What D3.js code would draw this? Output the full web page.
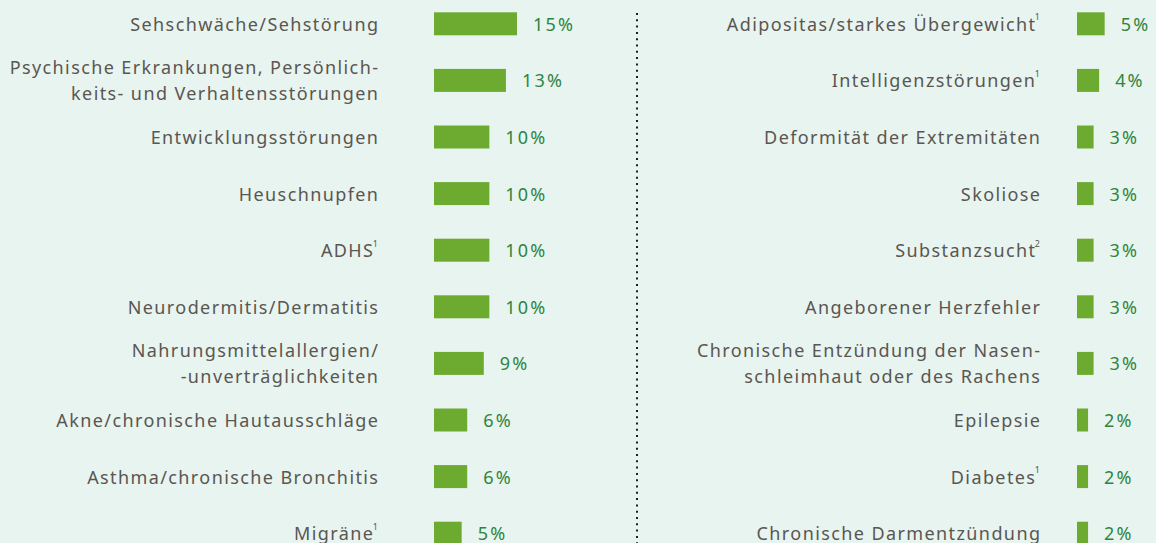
<!DOCTYPE html>
<html>
<head>
<meta charset="utf-8">
<script src="https://cdn.jsdelivr.net/npm/d3@7"></script>
<style>
    html, body { margin: 0; padding: 0; background: #e8f4ef; }
    svg { display: block; }
</style>
</head>
<body>
<div class="data_figure"></div>
<script>
// left column
const leftLabels = [
    ["Sehschwäche/Sehstörung"],
    ["Psychische Erkrankungen, Persönlich-", "keits- und Verhaltensstörungen"],
    ["Entwicklungsstörungen"],
    ["Heuschnupfen"],
    ["ADHS"],
    ["Neurodermitis/Dermatitis"],
    ["Nahrungsmittelallergien/", "-unverträglichkeiten"],
    ["Akne/chronische Hautausschläge"],
    ["Asthma/chronische Bronchitis"],
    ["Migräne"]
];
const leftNotes = ["", "", "", "", "1", "", "", "", "", "1"];
const leftValues = [15, 13, 10, 10, 10, 10, 9, 6, 6, 5];

// right column
const rightLabels = [
    ["Adipositas/starkes Übergewicht"],
    ["Intelligenzstörungen"],
    ["Deformität der Extremitäten"],
    ["Skoliose"],
    ["Substanzsucht"],
    ["Angeborener Herzfehler"],
    ["Chronische Entzündung der Nasen-", "schleimhaut oder des Rachens"],
    ["Epilepsie"],
    ["Diabetes"],
    ["Chronische Darmentzündung"]
];
const rightNotes = ["1", "1", "", "", "2", "", "", "", "1", ""];
const rightValues = [5, 4, 3, 3, 3, 3, 3, 2, 2, 2];

const widthMax = 1156;
const heightMax = 543;

const barColor = "#6dab30",
      valueColor = "#2f8440",
      labelColor = "#5a5652";

const svg = d3.select(".data_figure")
              .append("svg")
              .attr("width", widthMax)
              .attr("height", heightMax)
              .style("font-family", "'Noto Sans', sans-serif");

const y = d3.scaleBand()
            .domain(d3.range(10))
            .range([-5, 561]);
const x = d3.scaleLinear()
            .domain([0, 15])
            .range([0, 83]);
const barH = 23;
const spacing = 1.4;

function drawColumn(labels, notes, values, labelRight, barLeft) {
    const g = svg.append("g");
    const rows = g.selectAll(".row")
                  .data(values)
                  .enter()
                  .append("g")
                  .attr("class", "row")
                  .attr("transform", (d, i) => "translate(0," + (y(i) + y.bandwidth() / 2) + ")");

    rows.append("rect")
        .attr("x", barLeft)
        .attr("y", -barH / 2 + 0.5)
        .attr("width", (d) => x(d))
        .attr("height", barH)
        .attr("fill", barColor);

    rows.append("text")
        .attr("x", (d) => barLeft + x(d) + 16)
        .attr("y", 7.5)
        .attr("fill", valueColor)
        .style("font-size", "18px")
        .style("letter-spacing", "2.2px")
        .text((d) => d + "%");

    rows.each(function (d, i) {
        const lines = labels[i];
        const lineH = 26;
        const t = d3.select(this).append("text")
                    .attr("text-anchor", "end")
                    .attr("fill", labelColor)
                    .style("font-size", "18px")
                    .style("letter-spacing", spacing + "px");
        lines.forEach((line, k) => {
            const ty = 7.5 + (k - (lines.length - 1) / 2) * lineH;
            t.append("tspan")
             .attr("x", labelRight + spacing - (notes[i] && k == lines.length - 1 ? 5 : 0))
             .attr("y", ty)
             .text(line);
        });
        if (notes[i]) {
            d3.select(this).append("text")
              .attr("x", labelRight)
              .attr("y", -3)
              .attr("text-anchor", "end")
              .attr("fill", labelColor)
              .style("font-size", "9px")
              .text(notes[i]);
        }
    });
}

drawColumn(leftLabels, leftNotes, leftValues, 378, 434);
drawColumn(rightLabels, rightNotes, rightValues, 1040, 1077);

// dotted divider
svg.append("line")
   .attr("x1", 637)
   .attr("x2", 637)
   .attr("y1", 13)
   .attr("y2", heightMax)
   .attr("stroke", "#1e1e1e")
   .attr("stroke-width", 2)
   .attr("stroke-dasharray", "2 4.3");
</script>
</body>
</html>
